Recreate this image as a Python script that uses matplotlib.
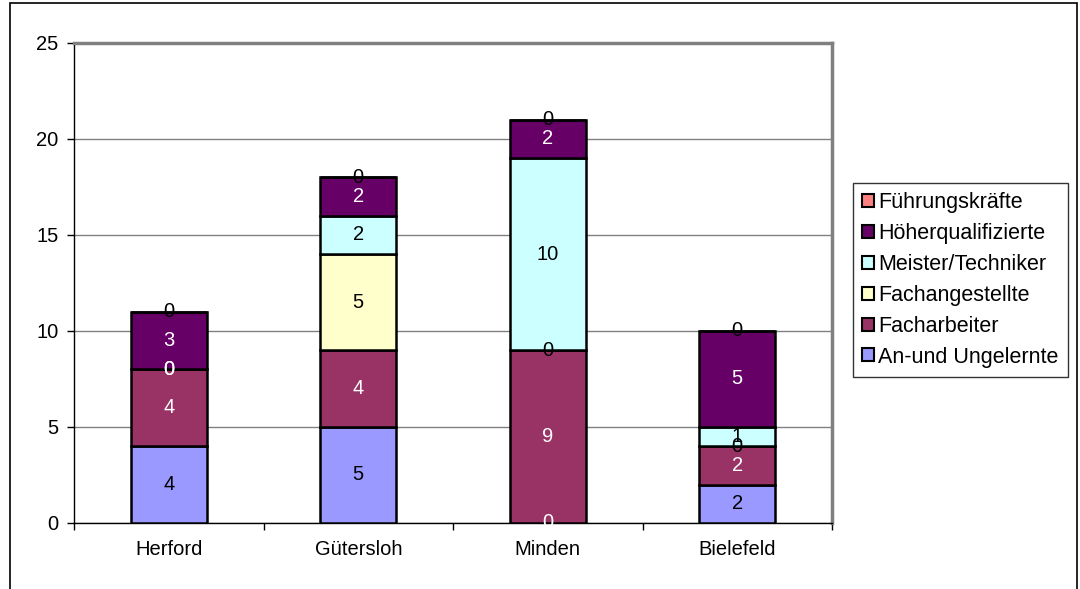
import numpy as np
import matplotlib.pyplot as plt
from matplotlib.patches import Rectangle, Patch
from matplotlib.colors import to_rgb

plt.rcParams['font.family'] = ['Liberation Sans', 'DejaVu Sans']

regions = ['Herford', 'Gütersloh', 'Minden', 'Bielefeld']
series = ['An-und Ungelernte', 'Facharbeiter', 'Fachangestellte',
          'Meister/Techniker', 'Höherqualifizierte', 'Führungskräfte']
an_ungelernte = [4, 5, 0, 2]
facharbeiter = [4, 4, 9, 2]
fachangestellte = [0, 5, 0, 0]
meister = [0, 2, 10, 1]
hoeherqualifiziert = [3, 2, 2, 5]
fuehrung = [0, 0, 0, 0]
colors = ['#9999FF', '#993366', '#FFFFCC', '#CCFFFF', '#660066', '#FF8080']

values = np.array([an_ungelernte, facharbeiter, fachangestellte,
                   meister, hoeherqualifiziert, fuehrung])

FS = 14.5


def is_dark(c):
    r, g, b = to_rgb(c)
    return 0.299 * r + 0.587 * g + 0.114 * b < 0.5


fig = plt.figure(figsize=(10.8, 5.89), dpi=100)
ax = fig.add_axes([74 / 1080, 1 - 523 / 589, (832 - 74) / 1080, (523 - 43) / 589])

# outer chart frame
fig.patches.append(Rectangle((10 / 1080, -0.1), (1077 - 10) / 1080, 1.1 - 3 / 589,
                             transform=fig.transFigure, fill=False,
                             edgecolor='black', linewidth=1.2, clip_on=False))

x = np.arange(len(regions))
bottoms = np.zeros(len(regions))
for i, name in enumerate(series):
    ax.bar(x, values[i], 0.4, bottom=bottoms, color=colors[i],
           edgecolor='black', linewidth=1.8, label=name, zorder=3)
    for j in range(len(regions)):
        v = values[i][j]
        if v > 0:
            yy = bottoms[j] + v / 2
            tc = 'white' if is_dark(colors[i]) else 'black'
        else:
            yy = bottoms[j]
            # zero label takes contrast of the next filled segment above
            above = [k for k in range(i + 1, len(series)) if values[k][j] > 0]
            tc = 'white' if above and is_dark(colors[above[0]]) else 'black'
        ax.text(x[j], yy, str(v), ha='center', va='center',
                fontsize=FS, color=tc, zorder=5)
    bottoms += values[i]

ax.set_xlim(-0.5, len(regions) - 0.5)
ax.set_ylim(0, 25)
ax.set_yticks(range(0, 26, 5))
ax.set_xticks(x)
ax.set_xticklabels(regions)
ax.set_xticks(np.arange(-0.5, len(regions), 1), minor=True)
ax.tick_params(axis='x', which='major', length=0, pad=12, labelsize=FS)
ax.tick_params(axis='x', which='minor', length=5, width=1, color='black')
ax.tick_params(axis='y', length=5, width=1, color='black', labelsize=FS, pad=6)
ax.yaxis.grid(True, color='#808080', linewidth=1, zorder=0)
ax.set_axisbelow(True)
for side in ['top', 'right']:
    ax.spines[side].set_color('#808080')
    ax.spines[side].set_linewidth(2.5)
for side in ['left', 'bottom']:
    ax.spines[side].set_color('black')
    ax.spines[side].set_linewidth(1)

handles = [Patch(facecolor=c, edgecolor='black', linewidth=1.5) for c in colors]
leg = fig.legend(handles[::-1], series[::-1], loc='upper left',
                 bbox_to_anchor=(853 / 1080, 1 - 183 / 589),
                 frameon=True, fancybox=False, fontsize=15.5,
                 handlelength=0.55, handleheight=0.55, handletextpad=0.2,
                 labelspacing=0.46, borderpad=0.42, borderaxespad=0)
leg.get_frame().set_edgecolor('black')
leg.get_frame().set_linewidth(1)

fig.savefig('out.png', dpi=100)
